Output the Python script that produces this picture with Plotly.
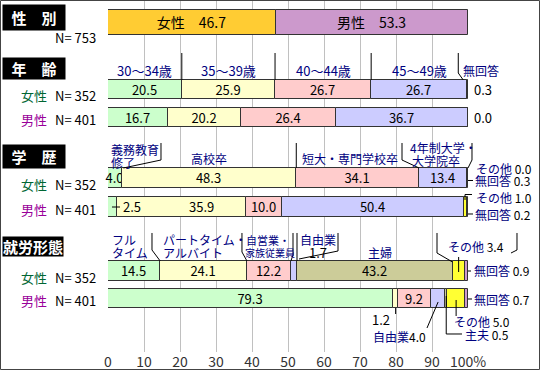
import numpy as np
import plotly.graph_objects as go

# ---------------- data ----------------
gender_labels = ["女性", "男性"]
gender_values = [46.7, 53.3]
gender_n = 753

age_labels = ["30～34歳", "35～39歳", "40～44歳", "45～49歳", "無回答"]
age_female = [20.5, 25.9, 26.7, 26.7, 0.3]
age_male = [16.7, 20.2, 26.4, 36.7, 0.0]

edu_labels = ["義務教育修了", "高校卒", "短大・専門学校卒", "4年制大学・大学院卒", "その他", "無回答"]
edu_female = [4.0, 48.3, 34.1, 13.4, 0.0, 0.3]
edu_male = [2.5, 35.9, 10.0, 50.4, 1.0, 0.2]

emp_labels = ["フルタイム", "パートタイム・アルバイト", "自営業・家族従業員", "自由業", "主婦／主夫", "その他", "無回答"]
emp_female = [14.5, 24.1, 12.2, 1.7, 43.2, 3.4, 0.9]
emp_male = [79.3, 1.2, 9.2, 4.0, 0.5, 5.0, 0.7]

n_female = 352
n_male = 401

x_tickvals = [0, 10, 20, 30, 40, 50, 60, 70, 80, 90, 100]
x_ticktext = ["0", "10", "20", "30", "40", "50", "60", "70", "80", "90", "100%"]

# ---------------- style ----------------
FONT = "Noto Sans CJK JP"
NAVY = "#000080"
FEM = "#006633"
MAL = "#990099"
EDGE = "#333333"
GOLD, PURP = "#FFCC33", "#CC99CC"
GREEN, LYEL, PINK, LAV = "#CCFFCC", "#FFFFCC", "#FFCCCC", "#CCCCFF"
OLIVE, YEL = "#CCCC99", "#FFFF33"
JS = 12  # size of Japanese labels

W, H = 540, 370
X0, X1 = 108, 468          # pixel extent of 0..100 %
PT, PB = 0, 352            # plot area top / bottom (pixels)
SC = (X1 - X0) / 100.0


def dx(v):
    return X0 + SC * v


def ax(px):
    return (px - X0) / (X1 - X0)


def ay(py):
    return 1 - (py - PT) / (PB - PT)


def starts(vals):
    return np.concatenate([[0.0], np.cumsum(vals)[:-1]])


fig = go.Figure()


def add_row(vals, colors, yc, h, texts, size=13):
    fig.add_trace(go.Bar(
        orientation="h", x=vals, base=starts(vals), y=[yc] * len(vals), width=h,
        marker=dict(color=colors, line=dict(color=EDGE, width=1)),
        text=texts, textposition="inside", insidetextanchor="middle", textangle=0,
        constraintext="none", textfont=dict(family=FONT, size=size, color="black"),
        hoverinfo="skip", showlegend=False, cliponaxis=False))


fmt = lambda v: f"{v:.1f}"

add_row(gender_values, [GOLD, PURP], 22.5, 25,
        [f"{l}　{fmt(v)}" for l, v in zip(gender_labels, gender_values)], size=14)

age_cols = [GREEN, LYEL, PINK, LAV, PURP]
add_row(age_female, age_cols, 89.5, 19, [fmt(v) for v in age_female[:4]] + [""])
add_row(age_male, age_cols, 117.5, 19, [fmt(v) for v in age_male[:4]] + [""])

edu_cols = [GREEN, LYEL, PINK, LAV, YEL, PURP]
add_row(edu_female, edu_cols, 178, 20, [fmt(v) for v in edu_female[:4]] + ["", ""])
add_row(edu_male, edu_cols, 207, 20, ["", "", fmt(edu_male[2]), fmt(edu_male[3]), "", ""])

emp_cols = [GREEN, LYEL, PINK, LAV, OLIVE, YEL, PURP]
add_row(emp_female, emp_cols, 271, 20,
        [fmt(v) for v in emp_female[:3]] + ["", fmt(emp_female[4]), "", ""])
add_row(emp_male, emp_cols, 298.5, 19,
        [fmt(emp_male[0]), "", fmt(emp_male[2]), "", "", "", ""])

anns = []


def text(px, py, t, color="black", size=13, xanchor="center", **kw):
    anns.append(dict(x=ax(px), y=ay(py), xref="paper", yref="paper", text=t,
                     showarrow=False, xanchor=xanchor, yanchor="middle",
                     font=dict(family=FONT, size=size, color=color), **kw))


def box(px, py, t, w, h):
    anns.append(dict(x=ax(px), y=ay(py), xref="paper", yref="paper", text=f"<b>{t}</b>",
                     showarrow=False, xanchor="center", yanchor="middle",
                     width=w, height=h, bgcolor="black", borderpad=0,
                     font=dict(family=FONT, size=15, color="white")))


shapes = []


def line(points, color="black", width=1):
    path = "M " + " L ".join(f"{ax(x):.5f},{ay(y):.5f}" for x, y in points)
    shapes.append(dict(type="path", path=path, xref="paper", yref="paper",
                       line=dict(color=color, width=width)))


def nv(t):
    return f"<span style='color:{NAVY}'>{t}</span>"


# ---- section headers & row labels ----
box(34, 17.5, "性　別", 62, 25)
text(98, 37, f"N= {gender_n}", xanchor="right")

box(34, 68.5, "年　齢", 62, 21)
box(34, 156.5, "学　歴", 62, 23)
box(33, 246, "就労形態", 60, 19)

for yf, ym in [(95.5, 119.5), (184, 209), (277, 300.5)]:
    text(34, yf, "女性", color=FEM)
    text(98, yf, f"N= {n_female}", xanchor="right")
    text(34, ym, "男性", color=MAL)
    text(98, ym, f"N= {n_male}", xanchor="right")

# ---- age ----
sf = starts(age_female)
bf = np.cumsum(age_female)
for i in range(4):
    text(dx(sf[i] + age_female[i] / 2), 70, age_labels[i], color=NAVY)
text(461, 70, age_labels[4], color=NAVY, xanchor="left", size=JS)
for i in range(3):
    line([(dx(bf[i]), 53), (dx(bf[i]), 80)])
line([(dx(bf[3]) - 9, 53), (dx(bf[3]) - 9, 73), (dx(bf[3]) - 4, 80)])
text(472, 89.5, fmt(age_female[4]), xanchor="left")
text(472, 117.5, fmt(age_male[4]), xanchor="left")

# ---- education ----
bf = np.cumsum(edu_female)
sf = starts(edu_female)
text(109, 149, "義務教育", color=NAVY, xanchor="left", size=JS)
text(109, 162, "修了", color=NAVY, xanchor="left", size=JS)
line([(161, 143), (161, 160), (dx(bf[0]) + 1, 168)])
text(dx(sf[1] + edu_female[1] / 2), 158, edu_labels[1], color=NAVY, size=JS)
line([(dx(bf[1]), 143), (dx(bf[1]), 168)])
text(350, 158, edu_labels[2], color=NAVY, size=JS)
text(408, 147.5, "4年制大学・", color=NAVY, xanchor="left", size=JS)
text(410, 160, "大学院卒", color=NAVY, xanchor="left", size=JS)
line([(402, 143), (402, 160), (dx(bf[2]), 168)])
line([(472, 143), (472, 160), (468, 168)])
text(474, 168.5, f"{nv('その他')} {fmt(edu_female[4])}", xanchor="left", size=JS)
line([(468, 180.5), (473, 180.5)])
text(473, 180.5, f"{nv('無回答')} {fmt(edu_female[5])}", xanchor="left", size=JS)

line([(112, 207), (120, 207)])
text(121, 207, fmt(edu_male[0]), xanchor="left")
text(201, 207, fmt(edu_male[1]))
line([(465, 200), (465, 194.5), (472, 194.5)])
text(474, 197, f"{nv('その他')} {fmt(edu_male[4])}", xanchor="left", size=JS)
line([(468, 214), (473, 214)])
text(473, 214, f"{nv('無回答')} {fmt(edu_male[5])}", xanchor="left", size=JS)

# ---- employment ----
bf = np.cumsum(emp_female)
sf = starts(emp_female)
text(110, 240, "フル", color=NAVY, xanchor="left", size=JS)
text(110, 252, "タイム", color=NAVY, xanchor="left", size=JS)
line([(152, 233), (152, 250), (dx(bf[0]), 261)])
text(161, 240, "パートタイム・", color=NAVY, xanchor="left", size=JS)
text(161, 252, "アルバイト", color=NAVY, xanchor="left", size=JS)
line([(dx(bf[1]) - 5, 233), (dx(bf[1]) - 5, 252), (dx(bf[1]), 261)])
text(244, 239.5, "自営業・", color=NAVY, xanchor="left", size=11)
text(243, 252, "家族従業員", color=NAVY, xanchor="left", size=10)
line([(293, 233), (293, 255), (dx(bf[2]), 261)])
line([(dx(bf[3]), 233), (dx(bf[3]), 261)])
line([(338, 233), (338, 251), (dx(bf[3]) + 2, 259)])
text(318, 239.5, nv(emp_labels[3]), size=JS)
text(318, 252, fmt(emp_female[3]))
text(380, 252, "主婦", color=NAVY, size=JS)
xo = dx(sf[5] + emp_female[5] / 2)
line([(437, 233), (437, 253), (dx(bf[4]), 262)])
line([(517, 233), (517, 250), (511, 253)])
line([(xo, 257), (xo, 272)])
text(476, 246.5, f"{nv('その他')} {fmt(emp_female[5])}", size=JS)
line([(468, 271), (471, 271)])
text(472, 270, f"{nv('無回答')} {fmt(emp_female[6])}", xanchor="left", size=JS)

sm = starts(emp_male)
cm = lambda i: dx(sm[i] + emp_male[i] / 2)
line([(cm(1), 308), (cm(1), 314)])
text(392, 319, fmt(emp_male[1]), xanchor="right")
line([(cm(3), 302), (427, 328)])
text(399, 336, f"{nv('自由業')}{fmt(emp_male[3])}", size=JS)
line([(cm(4), 296), (cm(4), 334), (462, 334)])
text(463, 334, f"{nv('主夫')} {fmt(emp_male[4])}", xanchor="left", size=JS)
line([(cm(5), 300), (cm(5), 316)])
text(452, 321, f"{nv('その他')} {fmt(emp_male[5])}", xanchor="left", size=JS)
line([(468, 299), (472, 299)])
text(472, 299, f"{nv('無回答')} {fmt(emp_male[6])}", xanchor="left", size=JS)

# outer frame
shapes.append(dict(type="rect", xref="paper", yref="paper",
                   x0=ax(0.5), x1=ax(W - 0.5), y0=ay(H - 0.5), y1=ay(0.5),
                   line=dict(color="#444444", width=1), fillcolor="rgba(0,0,0,0)"))

fig.update_layout(
    width=W, height=H,
    margin=dict(l=X0, r=W - X1, t=PT, b=H - PB, pad=0),
    paper_bgcolor="white", plot_bgcolor="white",
    barmode="overlay", bargap=0,
    xaxis=dict(range=[0, 100], tickvals=x_tickvals, ticktext=x_ticktext,
               showgrid=True, gridcolor="#C0C0C0", gridwidth=1,
               zeroline=False, showline=False, ticks="",
               tickfont=dict(family=FONT, size=14, color="#333333"), fixedrange=True),
    yaxis=dict(range=[PB, PT], visible=False, showgrid=False, zeroline=False, fixedrange=True),
    annotations=anns, shapes=shapes,
    font=dict(family=FONT),
)

fig.write_html("out.html", config={"displayModeBar": False},
               post_script="document.body.style.margin='0';document.body.style.overflow='hidden';")
